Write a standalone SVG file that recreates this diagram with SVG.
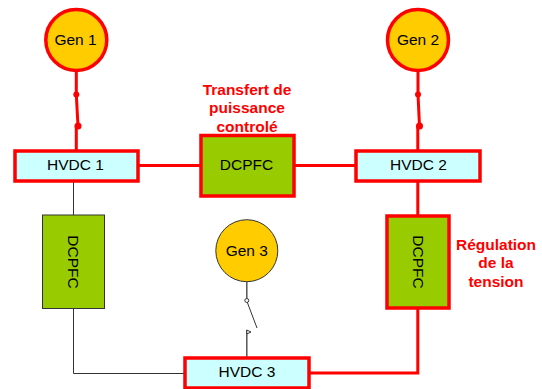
<svg xmlns="http://www.w3.org/2000/svg" width="542" height="389" viewBox="0 0 542 389">
<style>
text{font-family:"Liberation Sans",Arial,sans-serif;fill:#000;text-anchor:middle;font-size:15.5px}
.g{fill:#ffcc00}
.r{stroke:#f00;stroke-width:3.500}
.k{stroke:#333;stroke-width:1}
.h{fill:#ccffff}
.d{fill:#99cc00}
.cr{fill:none;stroke:#f00;stroke-width:3}
.ck{fill:none;stroke:#333;stroke-width:1}
.lab{fill:#f00;font-weight:bold;font-size:15.500px}
</style>
<g id="connectors">
<path class="cr" d="M76.300 70V94.500L78 126M76.300 126V150"/>
<circle cx="76.300" cy="94.500" r="3" fill="#f00"/><circle cx="78" cy="126" r="3.500" fill="#f00"/>
<path class="cr" d="M418 70V94.500L419.500 126M417.800 126V150"/>
<circle cx="418" cy="94.500" r="3" fill="#f00"/><circle cx="419.500" cy="126" r="3.500" fill="#f00"/>
<path class="cr" d="M138 165.500H201M294 165.500H356"/>
<path class="cr" d="M417.800 181V216M417.800 308V373H309"/>
<path class="ck" d="M73.500 181V215M73.500 308V373.500H185"/>
<path d="M246.800 282V300" fill="none" stroke="#555" stroke-width="1.500"/>
<path d="M246.800 301L257 328" fill="none" stroke="#333"/>
<path d="M246.800 330V357" fill="none" stroke="#555" stroke-width="1.500"/>
<circle cx="246.800" cy="300.500" r="2" fill="#fff" stroke="#333"/>
<path d="M246.800 330L251 332L246.800 334Z" fill="#fff" stroke="#333"/>
</g>
<g id="gen1"><circle class="g r" cx="76.300" cy="40" r="30.500"/><text x="75.500" y="45">Gen 1</text></g>
<g id="gen2"><circle class="g r" cx="418" cy="40" r="30.500"/><text x="418" y="45">Gen 2</text></g>
<g id="gen3"><circle class="g k" cx="246.800" cy="250.700" r="31"/><text x="246.800" y="255.500">Gen 3</text></g>
<g id="hvdc1"><rect class="h r" x="15" y="151" width="123" height="30"/><text x="75.500" y="170">HVDC 1</text></g>
<g id="hvdc2"><rect class="h r" x="356" y="151" width="124" height="30"/><text x="418.500" y="170">HVDC 2</text></g>
<g id="hvdc3"><rect class="h r" x="185" y="358" width="124" height="30"/><text x="247" y="377">HVDC 3</text></g>
<g id="dcpfc-top"><rect class="d r" x="201" y="135.500" width="93" height="60.500"/><text x="246.500" y="170">DCPFC</text></g>
<g id="dcpfc-left"><rect class="d k" x="42.500" y="215" width="62" height="93.500"/><text transform="translate(73.500 262) rotate(90)" y="5.500">DCPFC</text></g>
<g id="dcpfc-right"><rect class="d r" x="387" y="216" width="62" height="92"/><text transform="translate(418 262) rotate(90)" y="5.500">DCPFC</text></g>
<g id="label-transfert"><text class="lab" x="247" y="95">Transfert de</text><text class="lab" x="247" y="113">puissance</text><text class="lab" x="247" y="132">controlé</text></g>
<g id="label-regulation"><text class="lab" x="496" y="250">Régulation</text><text class="lab" x="496" y="268">de la</text><text class="lab" x="496" y="287">tension</text></g>
</svg>
